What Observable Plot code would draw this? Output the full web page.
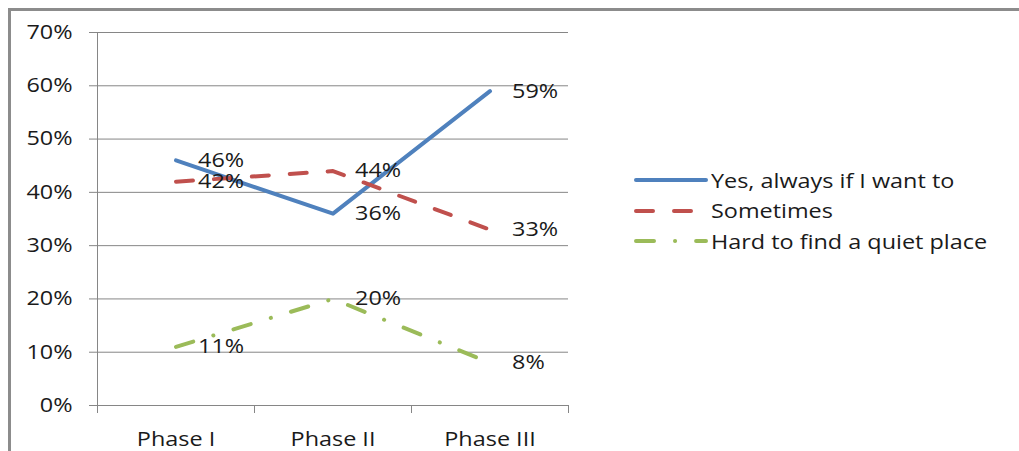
<!DOCTYPE html>
<html>
<head>
<meta charset="utf-8">
<script src="https://cdn.jsdelivr.net/npm/d3@7"></script>
<script src="https://cdn.jsdelivr.net/npm/@observablehq/plot@0.6"></script>
<style>
  body { margin: 0; background: #fff; }
  #wrap { position: relative; width: 1019px; height: 451px; overflow: hidden; font-family: "Open Sans", sans-serif; }
  #frame { position: absolute; left: 8px; top: 8px; width: 1100px; height: 500px; border-top: 3px solid #8c8c8c; border-left: 3px solid #8c8c8c; pointer-events: none; }
  #chart { position: absolute; left: 0; top: 0; }
  #legend { position: absolute; left: 633px; top: 165px; }
  .item { display: flex; align-items: center; height: 30.5px; font-size: 20px; color: #1a1a1a; white-space: nowrap; }
  .item svg { width: 76px; height: 10px; margin-right: 2px; flex: none; }
  .item span { display: inline-block; transform: scaleX(1.17); transform-origin: left center; }
</style>
</head>
<body>
<div id="wrap">
  <div id="chart"></div>
  <div id="frame"></div>
  <div id="legend"></div>
</div>
<script>
// Survey answers by phase (percent of respondents)
const phases = ["Phase I", "Phase II", "Phase III"];
const yesAlways = [46, 36, 59];
const sometimes = [42, 44, 33];
const hardToFind = [11, 20, 8];
const yTicks = [0, 10, 20, 30, 40, 50, 60, 70];

const seriesNames = ["Yes, always if I want to", "Sometimes", "Hard to find a quiet place"];
const seriesValues = [yesAlways, sometimes, hardToFind];
const seriesColors = ["#4f81bd", "#c0504d", "#9bbb59"];
const seriesDash = [null, "17,21", "18,21,0.1,21"];

// one row per phase and series; x is the band centre on a 0..3 index scale
const tables = seriesValues.map((vals, s) =>
  vals.map((v, i) => ({phase: phases[i], xi: i + 0.5, value: v, series: seriesNames[s]}))
);

const font = "'Open Sans', sans-serif";

const lineMarks = tables.map((t, s) =>
  Plot.line(t, {
    x: "xi", y: "value",
    stroke: seriesColors[s], strokeWidth: 4,
    strokeDasharray: seriesDash[s],
    strokeLinecap: "round", strokeLinejoin: "round"
  })
);

const labelMarks = tables.map(t =>
  Plot.text(t, {
    x: "xi", y: "value", text: d => d.value + "%",
    dx: 22, textAnchor: "start", lineAnchor: "middle",
    fill: "#1a1a1a", fontSize: 20
  })
);

const plot = Plot.plot({
  width: 1019,
  height: 451,
  marginLeft: 97,
  marginRight: 451,
  marginTop: 32,
  marginBottom: 46,
  style: {fontFamily: font, fontSize: "20px", color: "#1a1a1a", background: "transparent"},
  x: {type: "linear", domain: [0, 3]},
  y: {domain: [0, 70]},
  marks: [
    Plot.ruleY(yTicks, {stroke: "#868686", strokeWidth: 1}),
    Plot.ruleX([0], {stroke: "#868686", strokeWidth: 1}),
    Plot.axisY({
      ticks: yTicks, tickSize: 8, tickPadding: 17,
      tickFormat: d => d + "%", stroke: "#868686", label: null,
      fontSize: 20, fill: "#1a1a1a"
    }),
    // category boundary ticks
    Plot.axisX({
      ticks: [0, 1, 2, 3], tickSize: 8, tickFormat: () => "",
      stroke: "#868686", label: null
    }),
    // category names centred in each band
    Plot.axisX({
      ticks: phases.map((_, i) => i + 0.5), tickSize: 0, tickPadding: 26,
      tickFormat: d => phases[Math.round(d - 0.5)], label: null,
      fontSize: 20, fill: "#1a1a1a"
    }),
    ...lineMarks,
    ...labelMarks
  ]
});
document.getElementById("chart").appendChild(plot);

// widen the lettering a little, keeping each text's anchor in place
plot.querySelectorAll("text").forEach(t => {
  const len = t.getComputedTextLength();
  if (len > 0) {
    t.setAttribute("textLength", len * 1.17);
    t.setAttribute("lengthAdjust", "spacingAndGlyphs");
  }
});

// legend to the right of the plot
const legend = d3.select("#legend");
seriesNames.forEach((name, s) => {
  const item = legend.append("div").attr("class", "item");
  const svg = item.append("svg");
  svg.append("line")
    .attr("x1", 3).attr("x2", 73).attr("y1", 5).attr("y2", 5)
    .attr("stroke", seriesColors[s]).attr("stroke-width", 4)
    .attr("stroke-linecap", "round")
    .attr("stroke-dasharray", seriesDash[s]);
  item.append("span").text(name);
});
</script>
</body>
</html>
